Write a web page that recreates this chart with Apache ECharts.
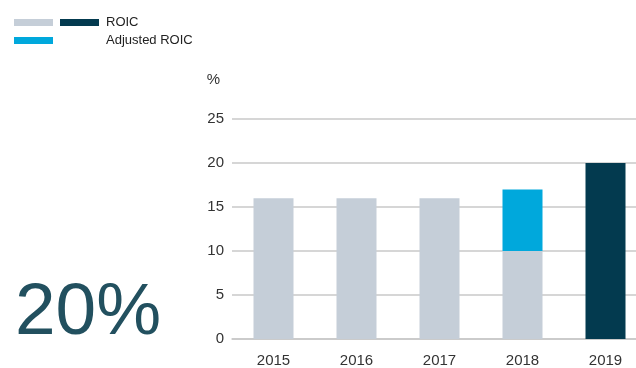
<!DOCTYPE html>
<html><head><meta charset="utf-8">
<script src="https://cdn.jsdelivr.net/npm/echarts@6/dist/echarts.min.js"></script>
<style>html,body{margin:0;padding:0;background:#fff}#c{width:636px;height:368px}</style>
</head><body><div id="c"></div>
<script>
var categories = ['2015','2016','2017','2018','2019'];
var roicBase = [16, 16, 16, 10, '-'];
var adjustedRoic = ['-', '-', '-', 7, '-'];
var roicCurrent = ['-', '-', '-', '-', 20];
var yTicks = [0, 5, 10, 15, 20, 25];
var headline = '20%';

var GRAY = '#c5ced8', DARK = '#033a4f', BLUE = '#00a8dc';
var chart = echarts.init(document.getElementById('c'));
chart.setOption({
  animation: false,
  textStyle: {fontFamily: 'Liberation Sans, Arial, sans-serif'},
  legend: [{
    left: 14, top: 16, padding: 0, itemWidth: 39, itemHeight: 7, itemGap: 7,
    icon: 'rect', selectedMode: false,
    data: ['ROIC base', 'ROIC'],
    formatter: function (n) { return n === 'ROIC' ? 'ROIC' : ''; },
    textStyle: {fontSize: 13, color: '#222', padding: [0, 0, 0, 2]}
  }, {
    left: 14, top: 34, padding: 0, itemWidth: 39, itemHeight: 7,
    icon: 'rect', selectedMode: false,
    data: ['Adjusted ROIC'],
    textStyle: {fontSize: 13, color: '#222', padding: [0, 0, 0, 48]}
  }],
  grid: {left: 232, top: 119, width: 415, height: 220, outerBoundsMode: 'none', containLabel: false},
  xAxis: {
    type: 'category', data: categories,
    axisLine: {lineStyle: {color: '#c8c8c8', width: 1.5}},
    axisTick: {show: false},
    axisLabel: {fontSize: 15, color: '#333', margin: 14}
  },
  yAxis: {
    type: 'value', min: yTicks[0], max: yTicks[yTicks.length - 1], interval: 5,
    name: '%', nameLocation: 'end', nameGap: 32,
    nameTextStyle: {fontSize: 15, color: '#333', align: 'right', padding: [0, 12, 0, 0]},
    axisLine: {show: false}, axisTick: {show: false},
    axisLabel: {fontSize: 15, color: '#333', margin: 8},
    splitLine: {lineStyle: {color: '#c8c8c8', width: 1.5}}
  },
  graphic: [{
    type: 'text', left: 15, top: 277,
    style: {text: headline, fontSize: 73, fill: '#22505f', fontFamily: 'Liberation Sans, Arial, sans-serif'}
  }],
  series: [
    {name: 'ROIC base', type: 'bar', stack: 's', data: roicBase, barWidth: 40,
     itemStyle: {color: GRAY}},
    {name: 'Adjusted ROIC', type: 'bar', stack: 's', data: adjustedRoic, barWidth: 40,
     itemStyle: {color: BLUE}},
    {name: 'ROIC', type: 'bar', stack: 's', data: roicCurrent, barWidth: 40,
     itemStyle: {color: DARK}}
  ]
});
</script></body></html>
